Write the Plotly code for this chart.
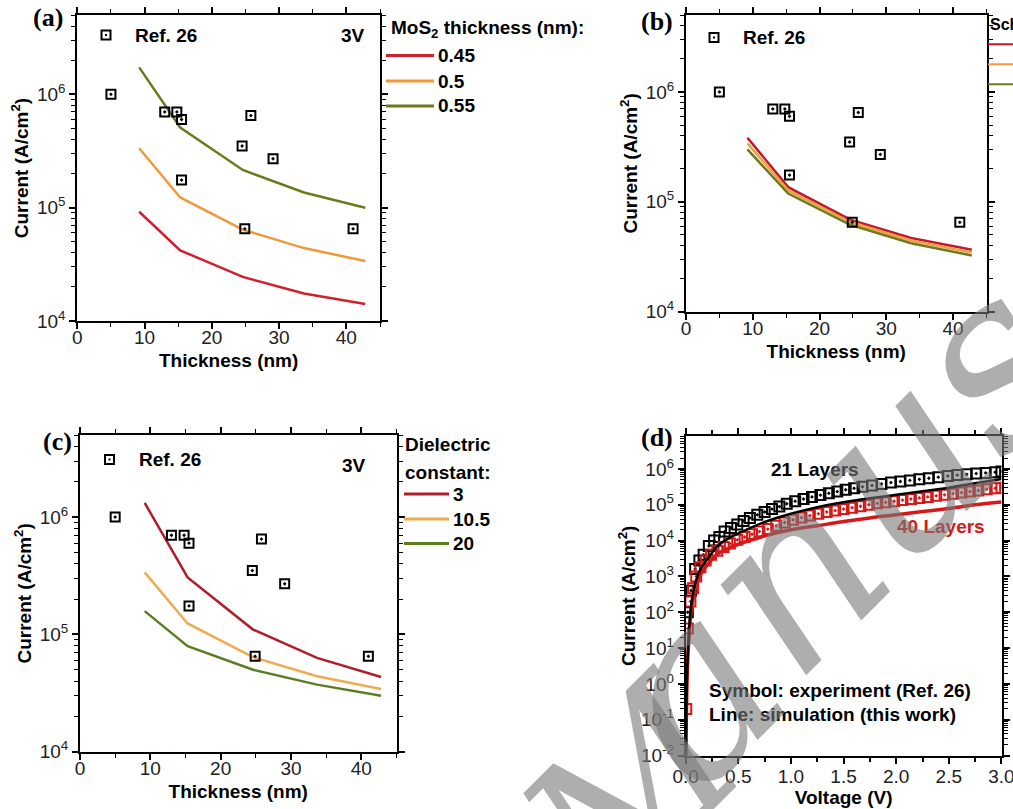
import plotly.graph_objects as go

W, H = 1013, 809
SANS = "Liberation Sans, Arial, sans-serif"
SERIF = "Liberation Serif, Times New Roman, serif"

# ---------------- data ----------------
# Ref. 26 experimental current density at 3 V vs. MoS2 film thickness
ref26_thickness = [5.0, 13.0, 14.8, 15.5, 15.5, 24.5, 25.8, 29.1, 24.9, 41.0]
ref26_current = [1.0e6, 7.0e5, 7.0e5, 6.0e5, 1.75e5, 3.5e5, 6.5e5, 2.7e5, 6.5e4, 6.5e4]

# simulated thicknesses (nm)
sim_thickness = [9.2, 15.3, 24.6, 33.7, 42.8]

# (a) monolayer thickness sweep
mos2_labels = ["0.45", "0.5", "0.55"]
mos2_045 = [9.2e4, 4.2e4, 2.45e4, 1.75e4, 1.41e4]
mos2_050 = [3.34e5, 1.23e5, 6.4e4, 4.4e4, 3.38e4]
mos2_055 = [1.73e6, 5.1e5, 2.15e5, 1.36e5, 1.0e5]

# (b) Schottky barrier sweep
sb_low = [3.83e5, 1.36e5, 6.87e4, 4.68e4, 3.66e4]
sb_mid = [3.4e5, 1.27e5, 6.55e4, 4.45e4, 3.46e4]
sb_high = [3.0e5, 1.19e5, 6.18e4, 4.2e4, 3.25e4]

# (c) dielectric constant sweep
eps_labels = ["3", "10.5", "20"]
eps_3 = [1.32e6, 3.06e5, 1.1e5, 6.3e4, 4.33e4]
eps_10p5 = [3.38e5, 1.24e5, 6.4e4, 4.4e4, 3.42e4]
eps_20 = [1.58e5, 7.94e4, 5.0e4, 3.73e4, 3.0e4]

# (d) J-V curves: experiment (symbols) and simulation (lines)
exp21_v = [0.02, 0.05, 0.09, 0.13, 0.17, 0.22, 0.27, 0.32, 0.37, 0.43, 0.49, 0.55,
           0.61, 0.68, 0.75, 0.82, 0.89, 0.96, 1.04, 1.12, 1.20, 1.28, 1.36, 1.44,
           1.52, 1.60, 1.68, 1.77, 1.86, 1.95, 2.04, 2.13, 2.22, 2.31, 2.40, 2.49,
           2.58, 2.67, 2.76, 2.85, 2.94, 3.0]
exp21_j = [1.0e2, 4.0e2, 1.6e3, 2.8e3, 4.0e3, 7.1e3, 1.0e4, 1.26e4, 1.78e4, 2.24e4,
           2.82e4, 3.55e4, 4.27e4, 5.25e4, 6.3e4, 7.6e4, 8.9e4, 1.07e5, 1.26e5, 1.45e5,
           1.66e5, 1.86e5, 2.09e5, 2.34e5, 2.63e5, 2.88e5, 3.16e5, 3.47e5, 3.8e5, 4.17e5,
           4.47e5, 4.79e5, 5.13e5, 5.5e5, 5.89e5, 6.31e5, 6.76e5, 7.08e5, 7.41e5, 7.76e5,
           8.13e5, 8.51e5]
exp40_v = [0.005, 0.02, 0.045, 0.07, 0.10, 0.14, 0.19, 0.24, 0.30, 0.36, 0.42, 0.49,
           0.56, 0.63, 0.70, 0.78, 0.86, 0.94, 1.02, 1.10, 1.18, 1.26, 1.34, 1.42,
           1.50, 1.58, 1.66, 1.74, 1.82, 1.90, 1.98, 2.06, 2.14, 2.22, 2.30, 2.38,
           2.46, 2.54, 2.62, 2.70, 2.78, 2.86, 2.94, 3.0]
exp40_j = [0.2, 35.0, 2.0e2, 4.7e2, 1.0e3, 1.8e3, 2.8e3, 4.0e3, 5.2e3, 6.6e3, 8.3e3,
           1.05e4, 1.26e4, 1.5e4, 1.78e4, 2.1e4, 2.6e4, 3.2e4, 3.8e4, 4.4e4, 5.0e4,
           5.6e4, 6.3e4, 6.9e4, 7.6e4, 8.3e4, 9.1e4, 1.0e5, 1.1e5, 1.17e5, 1.26e5,
           1.35e5, 1.45e5, 1.55e5, 1.66e5, 1.78e5, 1.9e5, 2.04e5, 2.19e5, 2.34e5,
           2.5e5, 2.7e5, 2.9e5, 3.0e5]
sim_v = [0.002, 0.005, 0.01, 0.02, 0.03, 0.05, 0.075, 0.1, 0.15, 0.2, 0.3, 0.4, 0.5,
         0.75, 1.0, 1.25, 1.5, 1.75, 2.0, 2.25, 2.5, 2.75, 3.0]
sim21_j = [1.0e-2, 0.1, 1.0, 7.0, 25.0, 1.4e2, 4.0e2, 8.0e2, 1.8e3, 2.9e3, 6.9e3,
           1.12e4, 1.58e4, 3.3e4, 5.6e4, 8.5e4, 1.17e5, 1.51e5, 1.9e5, 2.4e5, 3.0e5,
           4.0e5, 5.25e5]
sim40_j = [1.0e-2, 6.3e-2, 0.5, 5.0, 17.8, 1.0e2, 2.8e2, 5.6e2, 1.26e3, 2.0e3, 4.2e3,
           6.0e3, 7.9e3, 1.35e4, 2.0e4, 2.6e4, 3.4e4, 4.3e4, 5.25e4, 6.5e4, 7.9e4,
           1.0e5, 1.2e5]

# ---------------- styling ----------------
RED_A, ORANGE_A, OLIVE_A = "#d0202e", "#ee9a3a", "#6f7a1e"
RED_C, ORANGE_C, OLIVE_C = "#b01e2c", "#f0aa50", "#5c7e22"
RED_D = "#d81818"


def dom_x(left, right):
    return [left / W, right / W]


def dom_y(top, bottom):
    return [1 - bottom / H, 1 - top / H]


fig = go.Figure()

sq_marker = dict(symbol="square-open-dot", size=9, color="black", line=dict(width=2))

panels = [
    ("x", "y", [(mos2_045, RED_A), (mos2_050, ORANGE_A), (mos2_055, OLIVE_A)], mos2_labels),
    ("x2", "y2", [(sb_low, "#c21a2a"), (sb_mid, "#f0a040"), (sb_high, "#6f7a1e")], ["", "", ""]),
    ("x3", "y3", [(eps_3, RED_C), (eps_10p5, ORANGE_C), (eps_20, OLIVE_C)], eps_labels),
]
for xa, ya, curves, labels in panels:
    for (vals, col), lab in zip(curves, labels):
        fig.add_trace(go.Scatter(x=sim_thickness, y=vals, mode="lines", name=lab,
                                 line=dict(color=col, width=2.5), xaxis=xa, yaxis=ya,
                                 showlegend=False))
    fig.add_trace(go.Scatter(x=ref26_thickness, y=ref26_current, mode="markers",
                             name="Ref. 26", marker=sq_marker, xaxis=xa, yaxis=ya,
                             showlegend=False))

# (d)
fig.add_trace(go.Scatter(x=exp21_v, y=exp21_j, mode="markers", name="21 Layers (exp)",
                         marker=dict(symbol="square-open-dot", size=10, color="black",
                                     line=dict(width=2)),
                         xaxis="x4", yaxis="y4", showlegend=False))
fig.add_trace(go.Scatter(x=exp40_v, y=exp40_j, mode="markers", name="40 Layers (exp)",
                         marker=dict(symbol="square-open-dot", size=10, color=RED_D,
                                     line=dict(width=2)),
                         xaxis="x4", yaxis="y4", showlegend=False))
fig.add_trace(go.Scatter(x=sim_v, y=sim40_j, mode="lines", name="40 Layers (sim)",
                         line=dict(color=RED_D, width=3.5, shape="spline"),
                         xaxis="x4", yaxis="y4", showlegend=False))
fig.add_trace(go.Scatter(x=sim_v, y=sim21_j, mode="lines", name="21 Layers (sim)",
                         line=dict(color="black", width=2.5, shape="spline"),
                         xaxis="x4", yaxis="y4", showlegend=False))

tickfont = dict(family=SANS, size=19, color="#222")
titlefont = dict(family=SANS, size=19, color="black", weight="bold")


def base_axis(**kw):
    d = dict(showline=True, linecolor="black", linewidth=2, mirror="ticks",
             ticks="outside", ticklen=6, tickwidth=1.5, tickcolor="black",
             showgrid=False, zeroline=False, tickfont=tickfont, automargin=False)
    d.update(kw)
    return d


def sup(n):
    return "10<sup>%d</sup>" % n


thick_ticks = [0, 10, 20, 30, 40]
cur_ticks = [1e4, 1e5, 1e6]
v_ticks = [0.0, 0.5, 1.0, 1.5, 2.0, 2.5, 3.0]
jv_ticks = [10.0 ** k for k in range(-2, 7)]

xt = dict(text="Thickness (nm)", font=titlefont, standoff=7)
yt = dict(text="Current (A/cm<sup>2</sup>)", font=titlefont, standoff=3)
xminor = dict(dtick=5, ticks="outside", ticklen=4, tickcolor="black", tickwidth=1.2)
yminor = dict(dtick="D1", ticks="outside", ticklen=4, tickcolor="black", tickwidth=1.2)

layout_axes = {}
specs = [
    ("", dom_x(77.3, 380), dom_y(15, 321)),
    ("2", dom_x(686, 986.5), dom_y(15, 311.7)),
    ("3", dom_x(80, 396.5), dom_y(435, 751.7)),
]
for s, dx, dy in specs:
    layout_axes["xaxis" + s] = base_axis(domain=dx, range=[0, 45], tickvals=thick_ticks,
                                         anchor="y" + s, title=xt, minor=xminor,
                                         ticklabelstandoff=-8)
    layout_axes["yaxis" + s] = base_axis(domain=dy, type="log", range=[4, 6.7],
                                         tickvals=cur_ticks,
                                         ticktext=[sup(4), sup(5), sup(6)],
                                         anchor="x" + s, title=yt, minor=yminor)

layout_axes["xaxis4"] = base_axis(domain=dom_x(685.7, 1001.5), range=[0, 3.0005],
                                  tickvals=v_ticks,
                                  ticktext=["%.1f" % v for v in v_ticks],
                                  ticklabeloverflow="allow", ticklabelstandoff=-3,
                                  anchor="y4", minor=dict(dtick=0.25, ticks="outside",
                                                          ticklen=4, tickcolor="black"),
                                  title=dict(text="Voltage (V)", font=titlefont, standoff=3))
layout_axes["yaxis4"] = base_axis(domain=dom_y(436, 755.5), type="log", range=[-2, 6.92],
                                  tickvals=jv_ticks, ticktext=[sup(k) for k in range(-2, 7)],
                                  anchor="x4", minor=yminor,
                                  title=dict(text="Current (A/cm<sup>2</sup>)",
                                             font=titlefont, standoff=0))

# ---------------- annotations & keys ----------------
ann = []
shapes = []


def px_x(x):
    return x / W


def px_y(y):
    return 1 - y / H


def text(x, y, s, size=19, anchor="left", color="black", bold=True, family=SANS):
    ann.append(dict(x=px_x(x), y=px_y(y), xref="paper", yref="paper", text=s,
                    showarrow=False, xanchor=anchor, yanchor="middle",
                    font=dict(family=family, size=size, color=color,
                              weight="bold" if bold else "normal")))


def key_line(x0, x1, y, color, width=3):
    shapes.append(dict(type="line", xref="paper", yref="paper", x0=px_x(x0), x1=px_x(x1),
                       y0=px_y(y), y1=px_y(y), line=dict(color=color, width=width)))


def key_square(cx, cy, half=4.5):
    shapes.append(dict(type="rect", xref="paper", yref="paper",
                       x0=px_x(cx - half), x1=px_x(cx + half),
                       y0=px_y(cy + half), y1=px_y(cy - half),
                       line=dict(color="black", width=2)))
    shapes.append(dict(type="rect", xref="paper", yref="paper",
                       x0=px_x(cx - 1), x1=px_x(cx + 1), y0=px_y(cy + 1), y1=px_y(cy - 1),
                       line=dict(width=0), fillcolor="black"))


# panel letters
for lab, x, y in [("(a)", 48, 18), ("(b)", 657, 22), ("(c)", 57, 441), ("(d)", 657, 437)]:
    text(x, y, lab, size=26, anchor="center", family=SERIF)

# Ref. 26 keys
for cx, cy in [(106, 35), (714, 37.5), (109.5, 459.5)]:
    key_square(cx, cy)
    text(cx + 27, cy, "Ref. 26")
text(367, 35, "3V", anchor="right")
text(368, 465, "3V", anchor="right")

# (a) legend
text(389, 29, "MoS<sub>2</sub> thickness (nm):")
for (lab, col), y in zip(zip(mos2_labels, [RED_A, ORANGE_A, OLIVE_A]), [55.5, 81, 106]):
    key_line(386, 434, y, col)
    text(436, y, lab)

# (b) legend (runs off the right edge)
text(988, 25, "Schottky barrier:", size=16)
for col, y in zip(["#c21a2a", "#f0a040", "#6f7a1e"], [44.3, 64.3, 84.3]):
    key_line(988, 1040, y, col, width=2)

# (c) legend
text(403, 445, "Dielectric")
text(403, 472, "constant:")
for (lab, col), y in zip(zip(eps_labels, [RED_C, ORANGE_C, OLIVE_C]), [494, 519, 543.5]):
    key_line(404, 449, y, col)
    text(451, y, lab)

# (d) labels
text(815, 469, "21 Layers", anchor="center")
text(941, 526, "40 Layers", anchor="center", color=RED_D)
text(707, 690, "Symbol: experiment (Ref. 26)")
text(707, 714, "Line: simulation (this work)")

# watermark, laid out letter by letter along a diagonal baseline
wm_letters = ["M", "a", "n", "u", "s", "c"]
wm_centres = [(632, 792), (690, 690), (790, 574), (897, 463), (988, 362), (1070, 275)]
wm_sizes = [200, 240, 240, 240, 240, 240]
for ch, (cx, cy), fs in zip(wm_letters, wm_centres, wm_sizes):
    ann.append(dict(x=px_x(cx), y=px_y(cy), xref="paper", yref="paper", text=ch,
                    showarrow=False, xanchor="center", yanchor="middle", textangle=-45,
                    font=dict(family="DejaVu Serif", size=fs, style="italic",
                              color="rgba(120,120,120,0.6)")))

fig.update_layout(
    width=W, height=H, margin=dict(l=0, r=0, t=0, b=0),
    paper_bgcolor="white", plot_bgcolor="white",
    showlegend=False, annotations=ann, shapes=shapes,
    **layout_axes,
)

fig.write_html("out.html")
